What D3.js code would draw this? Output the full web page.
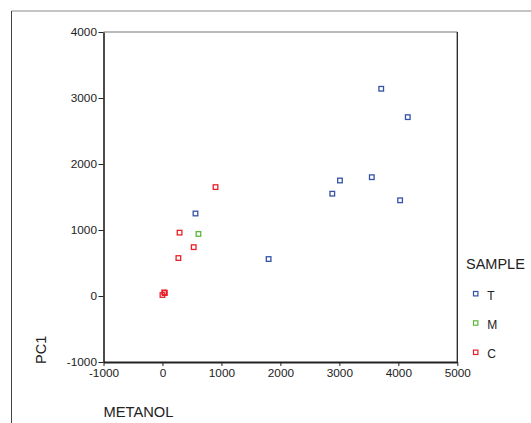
<!DOCTYPE html>
<html>
<head>
<meta charset="utf-8">
<script src="https://cdn.jsdelivr.net/npm/d3@7"></script>
<style>
  body { margin: 0; background: #fff; }
  text { font-family: "Liberation Sans", Arial, sans-serif; fill: #222; }
</style>
</head>
<body>
<div id="chart"></div>
<script>
// data
var groups = ["T", "M", "C"]
var metanolT = [3710, 4160, 3550, 3010, 2880, 4030, 560, 1800]
var pc1T     = [3140, 2710, 1800, 1750, 1550, 1450, 1250, 560]
var metanolM = [610]
var pc1M     = [940]
var metanolC = [900, 290, 530, 270, 30, 40, 0]
var pc1C     = [1650, 960, 740, 575, 55, 45, 15]
var xTicks = [-1000, 0, 1000, 2000, 3000, 4000, 5000]
var yTicks = [-1000, 0, 1000, 2000, 3000, 4000]

var colors = {T: "#3352a8", M: "#5cb83c", C: "#e8202a"}

var W = 531, H = 423
var margin = {top: 32, left: 103.5}
var width = 457.3 - margin.left
var height = 362 - margin.top

var svg = d3.select("#chart")
  .append("svg")
    .attr("width", W)
    .attr("height", H)

// outer frame (runs off the right and bottom edges)
svg.append("line").attr("x1", 11.5).attr("x2", W).attr("y1", 11).attr("y2", 11)
  .attr("stroke", "#8a8a8a").attr("stroke-width", 1)
svg.append("line").attr("x1", 11.5).attr("x2", 11.5).attr("y1", 11).attr("y2", H)
  .attr("stroke", "#444").attr("stroke-width", 1)

var g = svg.append("g")
  .attr("transform", "translate(" + margin.left + "," + margin.top + ")")

var x = d3.scaleLinear().domain([-1000, 5000]).range([0, width])
var y = d3.scaleLinear().domain([-1000, 4000]).range([height, 0])

// top and right edges of the plot box
g.append("line").attr("x1", 0).attr("x2", width).attr("y1", 0).attr("y2", 0)
  .attr("stroke", "#777").attr("stroke-width", 1.2)
g.append("line").attr("x1", width).attr("x2", width).attr("y1", 0).attr("y2", height)
  .attr("stroke", "#222").attr("stroke-width", 1.3)

var plain = function(d) { return String(d) }

var xAxis = g.append("g")
  .attr("transform", "translate(0," + height + ")")
  .call(d3.axisBottom(x).tickValues(xTicks).tickSize(4).tickSizeOuter(0).tickFormat(plain))
xAxis.select(".domain").attr("stroke", "#222").attr("stroke-width", 2)
xAxis.selectAll(".tick line").attr("stroke", "#222")
xAxis.selectAll(".tick text")
  .attr("y", 7)
  .style("font-size", "11.8px")
  .style("font-family", "Liberation Sans, Arial, sans-serif")
  .attr("fill", "#222")

var yAxis = g.append("g")
  .call(d3.axisLeft(y).tickValues(yTicks).tickSize(5).tickSizeOuter(0).tickFormat(plain))
yAxis.select(".domain").attr("stroke", "#111").attr("stroke-width", 1.5)
yAxis.selectAll(".tick line").attr("stroke", "#222")
yAxis.selectAll(".tick text")
  .attr("x", -6.5)
  .style("font-size", "11.8px")
  .style("font-family", "Liberation Sans, Arial, sans-serif")
  .attr("fill", "#222")

var makePoints = function(name, xs, ys) {
  return xs.map(function(v, i) { return {group: name, x: v, y: ys[i]} })
}
var points = makePoints("C", metanolC, pc1C)
  .concat(makePoints("M", metanolM, pc1M))
  .concat(makePoints("T", metanolT, pc1T))

var s = 4.6
g.selectAll(".pt")
  .data(points)
  .enter()
  .append("rect")
    .attr("class", "pt")
    .attr("x", function(d) { return x(d.x) - s / 2 })
    .attr("y", function(d) { return y(d.y) - s / 2 })
    .attr("width", s)
    .attr("height", s)
    .attr("fill", "none")
    .attr("stroke", function(d) { return colors[d.group] })
    .attr("stroke-width", 1.3)

// axis titles
svg.append("text")
  .attr("x", 103.5)
  .attr("y", 417)
  .style("font-size", "14.7px")
  .text("METANOL")

svg.append("text")
  .attr("transform", "translate(46,364) rotate(-90)")
  .style("font-size", "14.5px")
  .text("PC1")

// legend
var legend = svg.append("g")
legend.append("text")
  .attr("x", 466)
  .attr("y", 269)
  .style("font-size", "14.5px")
  .text("SAMPLE")

var items = legend.selectAll(".item")
  .data(groups)
  .enter()
  .append("g")
    .attr("class", "item")
    .attr("transform", function(d, i) { return "translate(0," + (293.7 + i * 29.3) + ")" })
items.append("rect")
  .attr("x", 475.7 - 2.2)
  .attr("y", -2.2)
  .attr("width", 4.4)
  .attr("height", 4.4)
  .attr("fill", "none")
  .attr("stroke", function(d) { return colors[d] })
  .attr("stroke-width", 1.2)
items.append("text")
  .attr("x", 487.3)
  .attr("y", 6)
  .style("font-size", "12px")
  .text(function(d) { return d })
</script>
</body>
</html>
